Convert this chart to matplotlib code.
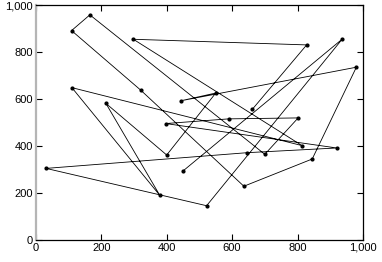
import matplotlib
matplotlib.use("Agg")
import matplotlib.pyplot as plt
from matplotlib.ticker import FuncFormatter

# points visited in order
xs = [662, 828, 298, 814, 110, 379, 214, 400, 550, 443, 980, 845, 636, 320, 109, 165, 700, 802, 590, 397, 920, 647, 31, 522, 937, 449]
ys = [557, 831, 855, 402, 649, 190, 582, 362, 626, 593, 736, 345, 229, 639, 892, 959, 365, 520, 516, 496, 392, 372, 305, 146, 856, 293]
ticks = [0, 200, 400, 600, 800, 1000]

plt.rcParams['font.family'] = ['Liberation Sans', 'DejaVu Sans']
fig = plt.figure(figsize=(3.82, 2.62), dpi=100)
ax = fig.add_axes([0.094, 0.084, 0.856, 0.896])
ax.plot(xs, ys, color='black', lw=0.6, marker='o', ms=2.0, mfc='black', mec='black')
ax.set_xlim(0, 1000)
ax.set_ylim(0, 1000)
ax.set_xticks(ticks)
ax.set_yticks(ticks)
fmt = FuncFormatter(lambda v, p: f"{int(v):,}")
ax.xaxis.set_major_formatter(fmt)
ax.yaxis.set_major_formatter(fmt)
ax.tick_params(direction='in', length=4, width=0.8, labelsize=8, top=True, right=True, pad=2)
for s in ['top', 'right', 'bottom']:
    ax.spines[s].set_linewidth(0.9)
ax.spines['left'].set_color('#b5b5b5')
ax.spines['left'].set_linewidth(1.6)
fig.savefig('out.png', dpi=100)
